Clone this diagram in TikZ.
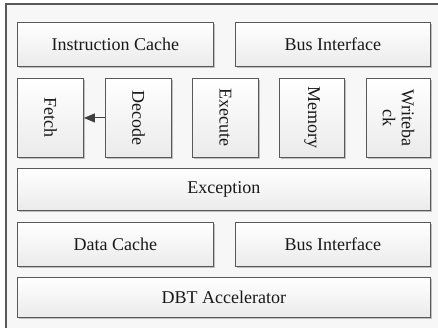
\documentclass[tikz,border=0pt]{standalone}
\usepackage{fontspec}
\setmainfont{Liberation Serif}
\usetikzlibrary{shadows,arrows.meta}
\begin{document}
\begin{tikzpicture}[x=1pt,y=-1pt,
  blk/.style={draw=black!65, line width=0.9pt, top color=white, bottom color=black!8,
    drop shadow={shadow xshift=1.6pt, shadow yshift=-1.6pt, fill=black!30, opacity=0.8},
    anchor=north west, inner sep=0pt, text=black!90,
    font=\fontsize{18}{19}\selectfont, align=center},
  vtxt/.style={rotate=-90, font=\fontsize{18}{19}\selectfont, text=black!90, align=center}
]
\useasboundingbox (0,0) rectangle (438,328);
\clip (0,0) rectangle (438,328);
\fill[black!3] (6,4) rectangle (445,335);
\draw[black!65, line width=1.2pt] (6,4) rectangle (445,335);

\node[blk, minimum width=196pt, minimum height=44pt] (ic) at (17,22) {Instruction Cache};
\node[blk, minimum width=195pt, minimum height=44pt] (bi1) at (235,22) {Bus Interface};

\node[blk, minimum width=66pt, minimum height=79pt] (fetch) at (17,78) {};
\node[vtxt] (fetcht) at (fetch.center) {Fetch};
\node[blk, minimum width=66pt, minimum height=79pt] (decode) at (105,78) {};
\node[vtxt] (decodet) at (decode.center) {Decode};
\node[blk, minimum width=66pt, minimum height=79pt] (execute) at (192,78) {};
\node[vtxt] (executet) at (execute.center) {Execute};
\node[blk, minimum width=65pt, minimum height=79pt] (memory) at (279,78) {};
\node[vtxt] (memoryt) at (memory.center) {Memory};
\node[blk, minimum width=64pt, minimum height=79pt] (wb) at (366,78) {};
\node[vtxt] (wbt) at (wb.center) {Writeba\\ck};

\draw[black!75, line width=1pt, -{Triangle[length=11pt,width=9pt]}] (decode.west) -- (fetch.east);

\node[blk, minimum width=413pt, minimum height=42pt] (exc) at (17,168) {Exception};
\node[blk, minimum width=196pt, minimum height=44pt] (dc) at (17,222) {Data Cache};
\node[blk, minimum width=195pt, minimum height=44pt] (bi2) at (235,222) {Bus Interface};
\node[blk, minimum width=413pt, minimum height=40pt] (dbt) at (17,277) {DBT Accelerator};
\end{tikzpicture}
\end{document}
